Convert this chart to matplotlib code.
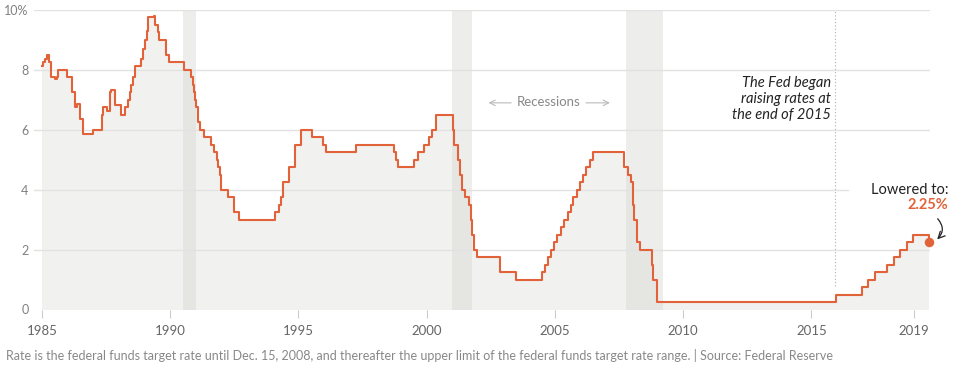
import matplotlib
matplotlib.use("Agg")
import matplotlib.pyplot as plt

# tasa objetivo de la Fed (año decimal, %)
years = [1985.00, 1985.06, 1985.13, 1985.20, 1985.27, 1985.36, 1985.50, 1985.57, 1985.64, 1985.96,
         1986.16, 1986.29, 1986.37, 1986.48, 1986.61, 1987.00, 1987.33, 1987.39, 1987.52, 1987.65,
         1987.71, 1987.83, 1988.07, 1988.24, 1988.36, 1988.42, 1988.49, 1988.55, 1988.62, 1988.88,
         1988.94, 1989.01, 1989.08, 1989.14, 1989.36, 1989.41, 1989.52, 1989.57, 1989.82, 1989.85,
         1989.97, 1990.53, 1990.82, 1990.87, 1990.93, 1990.96, 1991.02, 1991.09, 1991.18, 1991.33,
         1991.60, 1991.70, 1991.83, 1991.85, 1991.93, 1991.97, 1992.27, 1992.50, 1992.68, 1994.09,
         1994.23, 1994.30, 1994.38, 1994.62, 1994.87, 1995.09, 1995.52, 1995.97, 1996.08, 1997.23,
         1998.74, 1998.79, 1998.88, 1999.49, 1999.65, 1999.88, 2000.09, 2000.22, 2000.38, 2001.01,
         2001.08, 2001.22, 2001.30, 2001.38, 2001.49, 2001.64, 2001.71, 2001.76, 2001.85, 2001.95,
         2002.85, 2003.49, 2004.50, 2004.61, 2004.72, 2004.86, 2004.96, 2005.09, 2005.22, 2005.34,
         2005.50, 2005.61, 2005.72, 2005.84, 2005.96, 2006.08, 2006.22, 2006.36, 2006.49, 2007.71,
         2007.83, 2007.95, 2008.06, 2008.08, 2008.21, 2008.33, 2008.77, 2008.83, 2008.96, 2015.96,
         2016.96, 2017.21, 2017.46, 2017.96, 2018.21, 2018.46, 2018.74, 2018.97, 2019.58]
rates = [8.125, 8.25, 8.375, 8.5, 8.25, 7.75, 7.6875, 7.75, 8.0, 7.75,
         7.25, 6.75, 6.875, 6.375, 5.875, 6.0, 6.5, 6.75, 6.625, 7.25,
         7.3125, 6.8125, 6.5, 6.75, 7.0, 7.25, 7.5, 7.75, 8.125, 8.375,
         8.6875, 9.0, 9.3125, 9.75, 9.8125, 9.5, 9.25, 9.0, 8.75, 8.5,
         8.25, 8.0, 7.75, 7.5, 7.25, 7.0, 6.75, 6.25, 6.0, 5.75,
         5.5, 5.25, 5.0, 4.75, 4.5, 4.0, 3.75, 3.25, 3.0, 3.25,
         3.5, 3.75, 4.25, 4.75, 5.5, 6.0, 5.75, 5.5, 5.25, 5.5,
         5.25, 5.0, 4.75, 5.0, 5.25, 5.5, 5.75, 6.0, 6.5, 6.0,
         5.5, 5.0, 4.5, 4.0, 3.75, 3.5, 3.0, 2.5, 2.0, 1.75,
         1.25, 1.0, 1.25, 1.5, 1.75, 2.0, 2.25, 2.5, 2.75, 3.0,
         3.25, 3.5, 3.75, 4.0, 4.25, 4.5, 4.75, 5.0, 5.25, 4.75,
         4.5, 4.25, 3.5, 3.0, 2.25, 2.0, 1.5, 1.0, 0.25, 0.5,
         0.75, 1.0, 1.25, 1.5, 1.75, 2.0, 2.25, 2.5, 2.25]

ultimo_anio = 2019.58
ultima_tasa = 2.25

recesiones = [(1990.49, 1991.0), (2001.0, 2001.75), (2007.76, 2009.22)]
anio_subida = 2015.93

anios_ticks = [1985, 1990, 1995, 2000, 2005, 2010, 2015, 2019]
tasas_ticks = [0, 2, 4, 6, 8, 10]
etiquetas_y = ["0", "2", "4", "6", "8", "10%"]

naranja = "#e2623a"
fuente = "Lato"

fig = plt.figure(figsize=(9.55, 3.7), dpi=100)
ax = fig.add_axes([34 / 955, (370 - 309.5) / 370, 896 / 955, 299.5 / 370])

# relleno (hasta el penultimo valor) y linea escalonada
ax.fill_between(years, rates[:-2] + [rates[-2], rates[-2]], step="post",
                color="#f1f1ef", lw=0, zorder=1)
ax.step(years, rates, where="post", color=naranja, lw=1.5, zorder=4)

# recesiones
for a, b in recesiones:
    ax.axvspan(a, b, color="#d8d8d4", alpha=0.45, lw=0, zorder=2)

# lineas de la grilla
for t in tasas_ticks[1:]:
    fin = 0.908 if t == 4 else 1.0
    ax.axhline(t, xmax=fin, color="#e2e2e2", lw=1, zorder=3)

ax.plot([anio_subida, anio_subida], [0.77, 10], color="#b0b0b0", lw=0.8,
        ls=(0, (1, 2)), zorder=3)

ax.scatter([ultimo_anio], [ultima_tasa], s=34, color=naranja, zorder=5, clip_on=False)

ax.set_xlim(1984.69, 2019.62)
ax.set_ylim(0, 10)
for s in ax.spines.values():
    s.set_visible(False)

ax.set_xticks(anios_ticks)
ax.set_xticklabels([str(a) for a in anios_ticks], family=fuente, fontsize=9.5, color="#666666")
ax.tick_params(axis="x", length=6, width=0.8, color="#cccccc", pad=5)
ax.set_yticks(tasas_ticks)
ax.set_yticklabels(etiquetas_y, family=fuente, fontsize=9, color="#808080")
ax.tick_params(axis="y", length=0, pad=4)

# anotaciones
ax.text(2004.74, 6.93, "Recessions", ha="center", va="center", fontsize=9.5,
        color="#888888", family=fuente)
ax.annotate("", xy=(2002.3, 6.9), xytext=(2003.4, 6.9),
            arrowprops=dict(arrowstyle="->", color="#bbbbbb", lw=0.8))
ax.annotate("", xy=(2007.25, 6.9), xytext=(2006.1, 6.9),
            arrowprops=dict(arrowstyle="->", color="#bbbbbb", lw=0.8))

ax.text(2015.75, 7.03, "The Fed began\nraising rates at\nthe end of 2015", ha="right", va="center",
        fontsize=10.5, style="italic", color="#222222", linespacing=1.2, family=fuente)

ax.text(2020.33, 3.99, "Lowered to:", ha="right", va="center", fontsize=10.5,
        color="#222222", family=fuente, clip_on=False)
ax.text(2020.33, 3.49, "2.25%", ha="right", va="center", fontsize=10.5, fontweight="bold",
        color=naranja, family=fuente, clip_on=False)
ax.annotate("", xy=(2019.9, 2.34), xytext=(2019.92, 3.03),
            arrowprops=dict(arrowstyle="->", color="#222222", lw=0.9, mutation_scale=12,
                            shrinkA=0, shrinkB=0,
                            connectionstyle="arc3,rad=-0.45"), annotation_clip=False)

fig.text(6 / 955, 1 - 355 / 370, "Rate is the federal funds target rate until Dec. 15, 2008, and thereafter "
         "the upper limit of the federal funds target rate range. | Source: Federal Reserve",
         ha="left", va="center", fontsize=9, color="#888888", family=fuente)

fig.savefig("out.png", dpi=100)
